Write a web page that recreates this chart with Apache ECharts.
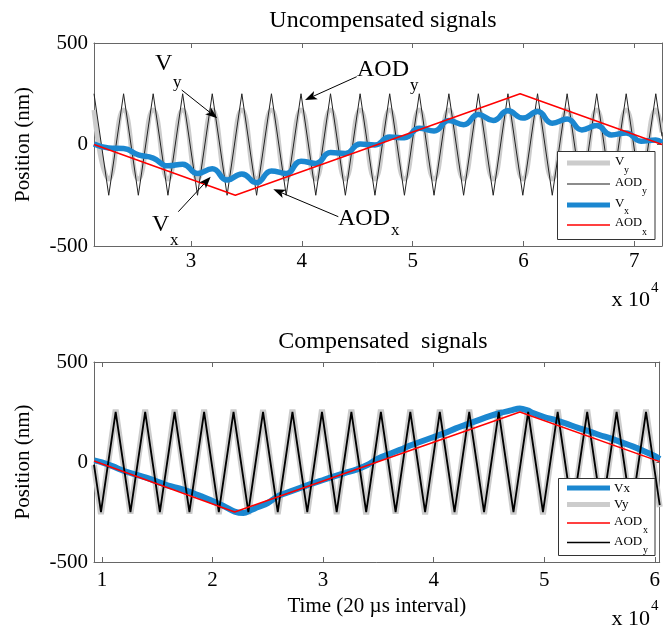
<!DOCTYPE html>
<html>
<head>
<meta charset="utf-8">
<script src="https://cdn.jsdelivr.net/npm/echarts@6/dist/echarts.min.js"></script>
<style>html,body{margin:0;padding:0;background:#fff}#c{width:663px;height:632px}</style>
</head>
<body>
<div id="c"></div>
<script>
// ---------- data (x in units of 10^4 samples, y in nm) ----------
const topXTicks = [3, 4, 5, 6, 7];
const botXTicks = [1, 2, 3, 4, 5, 6];
const yTicks = [-500, 0, 500];

// Top panel: AOD_y triangle vertices, V_y (same times), V_x, AOD_x
const topAodYTime = [2.125,2.258,2.392,2.525,2.659,2.792,2.925,3.059,3.192,3.326,3.459,3.592,3.726,3.859,3.993,4.126,4.259,4.393,4.526,4.660,4.793,4.926,5.060,5.193,5.327,5.460,5.593,5.727,5.860,5.994,6.127,6.260,6.394,6.527,6.661,6.794,6.927,7.061,7.194,7.25];
const topAodYVal  = [250,-250,250,-250,250,-250,250,-250,250,-250,250,-250,250,-250,250,-250,250,-250,250,-250,250,-250,250,-250,250,-250,250,-250,250,-250,250,-250,250,-250,250,-250,250,-250,250,40];
const topVyVal    = [170,-170,170,-170,170,-170,170,-170,170,-170,170,-170,170,-170,170,-170,170,-170,170,-170,170,-170,170,-170,170,-170,170,-170,170,-170,170,-170,170,-170,170,-170,170,-170,170,60];
const topVxVal    = [3,-17,-20,-51,-67,-105,-97,-143,-120,-175,-145,-188,-130,-143,-82,-93,-40,-44,2,-2,37,33,80,67,118,97,148,118,166,130,162,105,126,72,93,47,57,16,22,8];
const topAodXTime = [2.125, 3.40, 5.97, 7.25];
const topAodXVal  = [0, -250, 250, 0];

// Bottom panel
const botAodYTime = [0.928,0.991,1.124,1.258,1.391,1.524,1.657,1.791,1.924,2.057,2.190,2.324,2.457,2.590,2.723,2.857,2.990,3.123,3.256,3.390,3.523,3.656,3.789,3.923,4.056,4.189,4.322,4.456,4.589,4.722,4.855,4.989,5.122,5.255,5.389,5.522,5.655,5.788,5.921,6.045];
const botAodYVal  = [-13,-250,250,-250,250,-250,250,-250,250,-250,250,-250,250,-250,250,-250,250,-250,250,-250,250,-250,250,-250,250,-250,250,-250,250,-250,250,-250,250,-250,250,-250,250,-250,250,-216];
const botVyVal    = [-15,-260,262,-258,262,-260,262,-258,262,-260,262,-260,260,-260,262,-258,262,-260,262,-262,262,-258,262,-262,262,-262,262,-260,262,-262,262,-262,262,-260,262,-262,262,-262,262,-225];
const botVxTime = [0.93,1.0,1.1,1.2,1.3,1.4,1.5,1.6,1.7,1.8,1.9,2.0,2.1,2.2,2.28,2.35,2.4,2.5,2.6,2.7,2.8,2.9,3.0,3.1,3.2,3.3,3.4,3.5,3.6,3.7,3.8,3.9,4.0,4.1,4.2,4.3,4.4,4.5,4.6,4.7,4.78,4.85,4.9,5.0,5.1,5.2,5.3,5.4,5.5,5.6,5.7,5.8,5.9,6.0,6.045];
const botVxVal  = [8,-2,-22,-45,-62,-78,-98,-118,-132,-150,-172,-195,-220,-248,-255,-240,-228,-205,-168,-148,-128,-108,-90,-72,-55,-38,-15,18,40,62,85,105,125,145,168,188,208,228,245,258,268,258,245,225,210,192,172,155,135,118,98,78,55,30,15];
const botAodXTime = [0.928, 2.20, 4.78, 6.045];
const botAodXVal  = [5, -250, 250, 2];

// ---------- styling ----------
const FONT = 'Liberation Serif';
const AX = '#666';
const BLUE = '#1b87d0', GRAY = '#cccccc', RED = '#ff0000';

function zip(xs, ys) { return xs.map((x, i) => [x, ys[i]]); }

function xAx(grid, min, max, ticks, pos, labels) {
  return {
    type: 'value', gridIndex: grid, min: min, max: max, position: pos,
    axisLine: { show: true, onZero: false, lineStyle: { color: AX, width: 1 } },
    axisTick: { show: true, inside: true, length: 5, customValues: ticks, lineStyle: { color: AX } },
    axisLabel: labels ? { show: true, customValues: ticks, fontFamily: FONT, fontSize: 21, color: '#000', margin: grid === 0 ? 5 : 8 } : { show: false },
    splitLine: { show: false }
  };
}
function yAx(grid, pos, labels) {
  const o = {
    type: 'value', gridIndex: grid, min: -500, max: 500, interval: 500, position: pos,
    axisLine: { show: true, onZero: false, lineStyle: { color: AX, width: 1 } },
    axisTick: { show: true, inside: true, length: 5, lineStyle: { color: AX } },
    axisLabel: labels ? { show: true, fontFamily: FONT, fontSize: 21, color: '#000', margin: 6 } : { show: false },
    splitLine: { show: false }
  };
  if (labels) {
    o.name = 'Position (nm)'; o.nameLocation = 'middle'; o.nameGap = 60;
    o.nameTextStyle = { fontFamily: FONT, fontSize: 21, color: '#000' };
  }
  return o;
}

function line(name, xi, yi, data, color, width, smooth) {
  return { name: name, type: 'line', xAxisIndex: xi, yAxisIndex: yi, data: data, symbol: 'none',
    smooth: smooth || false, silent: true, lineStyle: { color: color, width: width }, itemStyle: { color: color } };
}

// ---------- graphic helpers (annotations / legends) ----------
const G = [];
function txt(s, x, y, size, align) {
  G.push({ type: 'text', z: 110, style: { text: s, x: x, y: y, font: size + 'px "' + FONT + '"', fill: '#000', textAlign: align || 'left', textVerticalAlign: 'middle' } });
}
function seg(x1, y1, x2, y2, color, w) {
  G.push({ type: 'line', z: 105, shape: { x1: x1, y1: y1, x2: x2, y2: y2 }, style: { stroke: color, lineWidth: w } });
}
function arrow(sx, sy, tx, ty) {
  const dx = tx - sx, dy = ty - sy, L = Math.hypot(dx, dy);
  const ux = dx / L, uy = dy / L, nx = -uy, ny = ux;
  const len = 12, hw = 4.5, notch = 3;
  const bx = tx - ux * len, by = ty - uy * len;
  const mx = tx - ux * (len - notch), my = ty - uy * (len - notch);
  seg(sx, sy, mx, my, '#000', 1);
  G.push({ type: 'polygon', z: 106, shape: { points: [[tx, ty], [bx + nx * hw, by + ny * hw], [mx, my], [bx - nx * hw, by - ny * hw]] }, style: { fill: '#000' } });
}

// Top annotations
txt('V', 155, 64, 24); txt('y', 173, 83, 17);
arrow(181.7, 90, 217.3, 118.3);
txt('AOD', 357, 70, 24); txt('y', 410, 86, 17);
arrow(356.7, 76.7, 305, 100);
txt('V', 152, 225, 24); txt('x', 170, 241, 17);
arrow(178.3, 211.7, 210.7, 176.7);
txt('AOD', 338, 219, 24); txt('x', 391, 231, 17);
arrow(338.3, 216.7, 273.3, 189.3);

// Top legend
G.push({ type: 'rect', z: 100, shape: { x: 557.5, y: 151.5, width: 97.5, height: 88 }, style: { fill: '#fff', stroke: '#333', lineWidth: 1 } });
seg(567, 163, 610, 163, GRAY, 5);   txt('V', 615, 162, 13);   txt('y', 624, 170, 10);
seg(567, 184, 610, 184, '#8c8c8c', 2); txt('AOD', 615, 183, 12.5); txt('y', 642, 191, 10);
seg(567, 205, 610, 205, BLUE, 5);   txt('V', 615, 204, 13);   txt('x', 624, 211, 10);
seg(567, 225, 610, 225, RED, 1.5);  txt('AOD', 615, 223, 12.5); txt('x', 642, 232, 10);

// Bottom legend
G.push({ type: 'rect', z: 100, shape: { x: 558.5, y: 478.5, width: 96.5, height: 77 }, style: { fill: '#fff', stroke: '#333', lineWidth: 1 } });
seg(567, 488, 610, 488, BLUE, 5);   txt('Vx', 614, 489, 13);
seg(567, 504.5, 610, 504.5, GRAY, 5); txt('Vy', 614, 505, 13);
seg(567, 523, 610, 523, RED, 1.5);  txt('AOD', 614, 522, 13); txt('x', 643, 530, 10);
seg(567, 542.5, 610, 542.5, '#000', 1.5); txt('AOD', 614, 542, 13); txt('y', 643, 550, 10);

// x 10^4 multipliers
txt('x 10', 650, 300, 22, 'right'); txt('4', 651, 288, 15);
txt('x 10', 650, 619, 22, 'right'); txt('4', 651, 606, 15);

const option = {
  animation: false,
  backgroundColor: '#fff',
  title: [
    { text: 'Uncompensated signals', left: 378, top: 4, textAlign: 'center', textStyle: { fontFamily: FONT, fontSize: 24, fontWeight: 'normal', color: '#000' } },
    { text: 'Compensated  signals', left: 378, top: 325, textAlign: 'center', textStyle: { fontFamily: FONT, fontSize: 24, fontWeight: 'normal', color: '#000' } }
  ],
  grid: [
    { left: 94, top: 43, width: 568, height: 203 },
    { left: 94, top: 362, width: 568, height: 200 }
  ],
  xAxis: [
    xAx(0, 2.125, 7.25, topXTicks, 'bottom', true),
    xAx(0, 2.125, 7.25, topXTicks, 'top', false),
    Object.assign(xAx(1, 0.928, 6.045, botXTicks, 'bottom', true), {
      name: 'Time (20 \u00b5s interval)', nameLocation: 'middle', nameGap: 34,
      nameTextStyle: { fontFamily: FONT, fontSize: 21, color: '#000' } }),
    xAx(1, 0.928, 6.045, botXTicks, 'top', false)
  ],
  yAxis: [
    yAx(0, 'left', true), yAx(0, 'right', false),
    yAx(1, 'left', true), yAx(1, 'right', false)
  ],
  series: [
    line('Vy (top)', 0, 0, zip(topAodYTime, topVyVal), GRAY, 5, 0.5),
    line('AODy (top)', 0, 0, zip(topAodYTime, topAodYVal), '#222', 1),
    line('Vx (top)', 0, 0, zip(topAodYTime, topVxVal), BLUE, 5.5, 0.5),
    line('AODx (top)', 0, 0, zip(topAodXTime, topAodXVal), RED, 1.5),
    line('Vy (bottom)', 2, 2, zip(botAodYTime, botVyVal), GRAY, 6),
    line('Vx (bottom)', 2, 2, zip(botVxTime, botVxVal), BLUE, 6, 0.3),
    line('AODy (bottom)', 2, 2, zip(botAodYTime, botAodYVal), '#000', 1.8),
    line('AODx (bottom)', 2, 2, zip(botAodXTime, botAodXVal), RED, 1.5)
  ],
  graphic: G
};

const chart = echarts.init(document.getElementById('c'), null, { renderer: 'canvas' });
chart.setOption(option);
</script>
</body>
</html>
